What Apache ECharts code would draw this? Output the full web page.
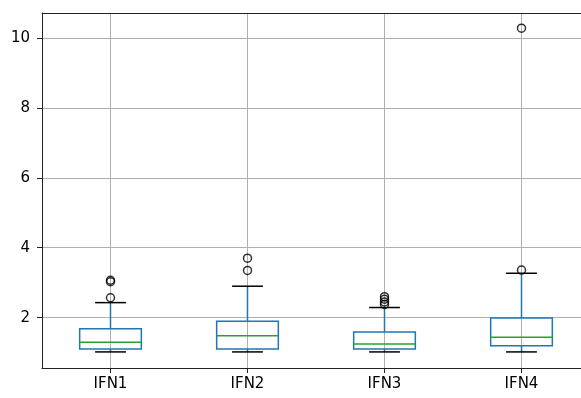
<!DOCTYPE html>
<html>
<head>
<meta charset="utf-8">
<script src="https://cdn.jsdelivr.net/npm/echarts@6/dist/echarts.min.js"></script>
<style>
html,body{margin:0;padding:0;background:#fff;overflow:hidden;width:581px;height:398px;}
#chart{width:600px;height:398px;}
</style>
</head>
<body>
<div id="chart"></div>
<script>
var categories = ['IFN1', 'IFN2', 'IFN3', 'IFN4'];
var whiskerLow = [1.02, 1.02, 1.02, 1.02];
var q1 = [1.10, 1.10, 1.10, 1.20];
var median = [1.30, 1.48, 1.25, 1.44];
var q3 = [1.68, 1.90, 1.59, 1.99];
var whiskerHigh = [2.43, 2.90, 2.29, 3.27];
var outliers = [[2.57, 3.03, 3.07], [3.35, 3.70], [2.38, 2.45, 2.53, 2.60], [3.36, 10.28]];
var yTicks = [2, 4, 6, 8, 10];

var boxData = categories.map(function (c, i) {
  return [i + 1, whiskerLow[i], q1[i], median[i], q3[i], whiskerHigh[i]];
});
var outlierData = [];
outliers.forEach(function (arr, i) {
  arr.forEach(function (v) { outlierData.push([i + 1, v]); });
});

var chart = echarts.init(document.getElementById('chart'), null, {renderer: 'canvas'});
var font = 'DejaVu Sans';
chart.setOption({
  animation: false,
  backgroundColor: '#fff',
  grid: {left: 42, top: 13, width: 548, height: 355, show: false, containLabel: false},
  xAxis: [{
    type: 'value', min: 0.5, max: 4.5,
    axisLine: {show: true, onZero: false, lineStyle: {color: '#222', width: 1}},
    axisTick: {show: true, customValues: [1, 2, 3, 4], length: 5, lineStyle: {color: '#222'}},
    axisLabel: {
      customValues: [1, 2, 3, 4], margin: 9, color: '#000', fontFamily: font, fontSize: 15,
      formatter: function (v) { return categories[Math.round(v) - 1]; }
    },
    splitLine: {show: true, lineStyle: {color: '#b0b0b0', width: 1}}
  }, {
    type: 'value', position: 'top', min: 0.5, max: 4.5,
    axisLine: {show: true, onZero: false, lineStyle: {color: '#222', width: 1}},
    axisTick: {show: false}, axisLabel: {show: false}, splitLine: {show: false}
  }],
  yAxis: {
    type: 'value', min: 0.56, max: 10.715,
    axisLine: {show: true, onZero: false, lineStyle: {color: '#222', width: 1}},
    axisTick: {show: true, customValues: yTicks, length: 5, lineStyle: {color: '#222'}},
    axisLabel: {customValues: yTicks, margin: 12, color: '#000', fontFamily: font, fontSize: 15},
    splitLine: {show: true, lineStyle: {color: '#b0b0b0', width: 1}}
  },
  series: [
    {
      type: 'custom',
      data: boxData,
      z: 3,
      renderItem: function (params, api) {
        var x = api.value(0);
        var lo = api.coord([x, api.value(1)]);
        var b1 = api.coord([x, api.value(2)]);
        var md = api.coord([x, api.value(3)]);
        var b3 = api.coord([x, api.value(4)]);
        var hi = api.coord([x, api.value(5)]);
        var w = api.size([0.45, 0])[0];
        var cw = w / 2;
        var cx = lo[0];
        var blue = '#1f77b4';
        var lw = 1.5;
        return {
          type: 'group',
          children: [
            {type: 'line', shape: {x1: cx, y1: b1[1], x2: cx, y2: lo[1]}, style: {stroke: blue, lineWidth: lw}},
            {type: 'line', shape: {x1: cx, y1: b3[1], x2: cx, y2: hi[1]}, style: {stroke: blue, lineWidth: lw}},
            {type: 'line', shape: {x1: cx - cw / 2, y1: lo[1], x2: cx + cw / 2, y2: lo[1]}, style: {stroke: '#000', lineWidth: lw}},
            {type: 'line', shape: {x1: cx - cw / 2, y1: hi[1], x2: cx + cw / 2, y2: hi[1]}, style: {stroke: '#000', lineWidth: lw}},
            {type: 'rect', shape: {x: cx - w / 2, y: b3[1], width: w, height: b1[1] - b3[1]}, style: {fill: 'none', stroke: blue, lineWidth: lw}},
            {type: 'line', shape: {x1: cx - w / 2, y1: md[1], x2: cx + w / 2, y2: md[1]}, style: {stroke: '#2ca02c', lineWidth: lw}}
          ]
        };
      }
    },
    {
      type: 'scatter',
      data: outlierData,
      z: 4,
      symbol: 'circle',
      symbolSize: 8,
      itemStyle: {color: 'rgba(0,0,0,0)', borderColor: '#000', borderWidth: 1.5}
    }
  ]
});
</script>
</body>
</html>
